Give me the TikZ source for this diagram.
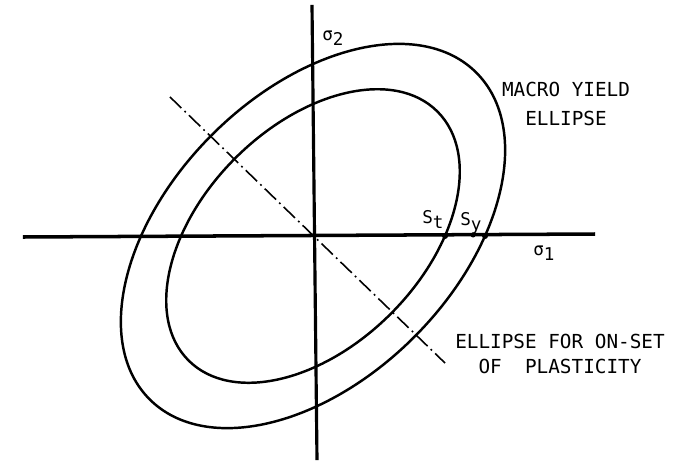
\documentclass[tikz,border=0pt]{standalone}
\usepackage{fontspec}
\setmonofont{DejaVu Sans Mono}
\newcommand{\lowsub}[1]{\raisebox{-0.6ex}{#1}}

\begin{document}
\begin{tikzpicture}[scale = 0.02, font=\ttfamily]
    % Define dimensions
    \def\outerA{231} % semi axes of macro yield ellipse
    \def\outerB{143}
    \def\innerA{176} % semi axes of on-set ellipse
    \def\innerB{110}
    \def\tilt{45}

    \useasboundingbox (-313,-226) rectangle (362,236);

    %Drawing axes
    \coordinate (W) at (-290,-1);
    \coordinate (E) at (282,2);
    \coordinate (N) at (-1,231);
    \coordinate (S) at (4,-224);
    \draw[line width = 2pt] (W) -- (E);
    \draw[line width = 1.8pt] (N) -- (S);

    %Drawing ellipses
    \draw[line width = 1.4pt, rotate = \tilt] (0,0) ellipse [x radius = \outerA, y radius = \outerB];
    \draw[line width = 1.4pt, rotate = \tilt] (0,0) ellipse [x radius = \innerA, y radius = \innerB];

    %Minor axis, dash-dot
    \coordinate (P) at (-143,139);
    \coordinate (Q) at (132,-127);
    \draw[line width = 0.9pt, dash pattern = on 9pt off 2.5pt on 1pt off 2.5pt] (P) -- (Q);

    %Points on the sigma_1 axis
    \coordinate (St) at (132,0);
    \coordinate (Sm) at (160,1);
    \coordinate (Sy) at (172,0);
    \fill (St) circle [radius = 3];
    \fill (Sm) circle [radius = 2.5];
    \fill (Sy) circle [radius = 3];

    %Labels
    \node (s2) at (9,196) [anchor = base west, inner sep = 0pt] {\fontsize{10}{12}\selectfont σ\lowsub{2}};
    \node (s1) at (220,-19) [anchor = base west, inner sep = 0pt] {\fontsize{10}{12}\selectfont σ\lowsub{1}};
    \node (st) at (109,13) [anchor = base west, inner sep = 0pt] {\fontsize{10}{12}\selectfont S\lowsub{t}};
    \node (sy) at (147,11) [anchor = base west, inner sep = 0pt] {\fontsize{10}{12}\selectfont S\lowsub{y}};
    \node (macro) at (253,132) [align = center, font = \ttfamily\fontsize{11}{16.4}\selectfont] {MACRO YIELD\\ELLIPSE};
    \node (onset) at (247,-118) [align = center, font = \ttfamily\fontsize{11}{14.2}\selectfont] {ELLIPSE FOR ON-SET\\OF\ \ PLASTICITY};

\end{tikzpicture}
\end{document}
